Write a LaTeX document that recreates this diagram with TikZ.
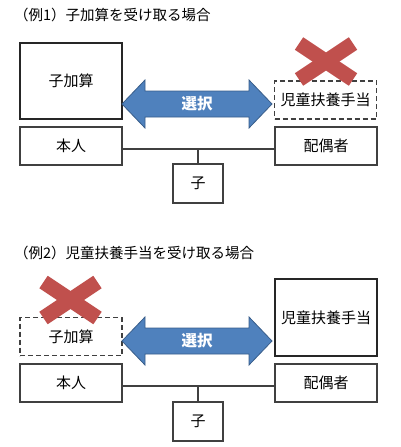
\documentclass[tikz,border=0pt]{standalone}
\usepackage{fontspec}
\setmainfont{Noto Sans CJK JP}
\usetikzlibrary{calc}
\definecolor{boxline}{HTML}{404040}
\definecolor{arrowfill}{HTML}{4F81BD}
\definecolor{arrowline}{HTML}{385D8A}
\definecolor{crossred}{HTML}{C0504D}
\tikzset{
  famtext/.style={font=\fontsize{15}{15}\selectfont},
  titletext/.style={font=\fontsize{14.5}{14.5}\selectfont, anchor=west, inner sep=0pt},
  smallbox/.style={draw=boxline, line width=1.2pt, fill=white, minimum width=102pt, minimum height=38pt, inner sep=0pt, famtext},
  bigbox/.style={draw=black!85, line width=1.8pt, fill=white, minimum width=102pt, minimum height=76pt, inner sep=0pt, famtext},
  dashbox/.style={draw=black!75, line width=1.5pt, dash pattern=on 5pt off 3pt, minimum width=102pt, minimum height=38pt, inner sep=0pt, famtext},
  childbox/.style={draw=boxline, line width=1.2pt, fill=white, minimum width=50pt, minimum height=39pt, inner sep=0pt, famtext},
  famline/.style={draw=boxline, line width=1.3pt},
  choicearrow/.style={fill=arrowfill, draw=arrowline, line width=0.8pt, line join=miter},
  choicetext/.style={text=white, font=\fontsize{15.5}{15.5}\selectfont\bfseries, inner sep=0pt},
  crossarm/.style={draw=crossred, line width=15pt, line cap=butt}
}
\begin{document}
\begin{tikzpicture}[x=1pt, y=-1pt]
\useasboundingbox (0,0) rectangle (400,447);

% ---------- Example 1 ----------
\node[titletext] (title1) at (14,15) {（例1）子加算を受け取る場合};
\node[bigbox] (kasan1) at (71,81) {子加算};
\node[dashbox] (jido1) at (325.5,100) {児童扶養手当};
\node[smallbox] (honnin1) at (71,146) {本人};
\node[smallbox] (haigu1) at (326,146) {配偶者};
\node[childbox] (ko1) at (198,183.5) {子};
\coordinate (l1) at ($(honnin1.east)+(0,3)$);
\coordinate (r1) at ($(haigu1.west)+(0,3)$);
\draw[famline] (l1) -- (r1);
\draw[famline] (ko1.north |- l1) -- (ko1.north);
% arrow
\coordinate (al1) at (122,104);
\coordinate (ar1) at (272,104);
\draw[choicearrow] (al1) -- ++(23,-24) -- ++(0,11) -- ($(ar1)+(-23,-13)$) -- ++(0,-11) -- (ar1)
  -- ++(-23,24) -- ++(0,-11) -- ($(al1)+(23,13)$) -- ++(0,11) -- cycle;
\node[choicetext] (sentaku1) at ($(al1)!0.5!(ar1)$) {選択};
% cross
\coordinate (x1) at (326,61.5);
\draw[crossarm] ($(x1)+(-27,-18)$) -- ($(x1)+(27,18)$);
\draw[crossarm] ($(x1)+(27,-18)$) -- ($(x1)+(-27,18)$);

% ---------- Example 2 ----------
\node[titletext] (title2) at (14,253) {（例2）児童扶養手当を受け取る場合};
\node[dashbox] (kasan2) at (71,336.5) {子加算};
\node[bigbox, minimum height=77pt] (jido2) at (326,317.5) {児童扶養手当};
\node[smallbox] (honnin2) at (71,383) {本人};
\node[smallbox] (haigu2) at (326,383) {配偶者};
\node[childbox] (ko2) at (198,421.5) {子};
\coordinate (l2) at ($(honnin2.east)+(0,3)$);
\coordinate (r2) at ($(haigu2.west)+(0,3)$);
\draw[famline] (l2) -- (r2);
\draw[famline] (ko2.north |- l2) -- (ko2.north);
% arrow
\coordinate (al2) at (122,341);
\coordinate (ar2) at (272,341);
\draw[choicearrow] (al2) -- ++(23,-24) -- ++(0,11) -- ($(ar2)+(-23,-13)$) -- ++(0,-11) -- (ar2)
  -- ++(-23,24) -- ++(0,-11) -- ($(al2)+(23,13)$) -- ++(0,11) -- cycle;
\node[choicetext] (sentaku2) at ($(al2)!0.5!(ar2)$) {選択};
% cross
\coordinate (x2) at (70.5,300);
\draw[crossarm] ($(x2)+(-27,-18)$) -- ($(x2)+(27,18)$);
\draw[crossarm] ($(x2)+(27,-18)$) -- ($(x2)+(-27,18)$);
\end{tikzpicture}
\end{document}
